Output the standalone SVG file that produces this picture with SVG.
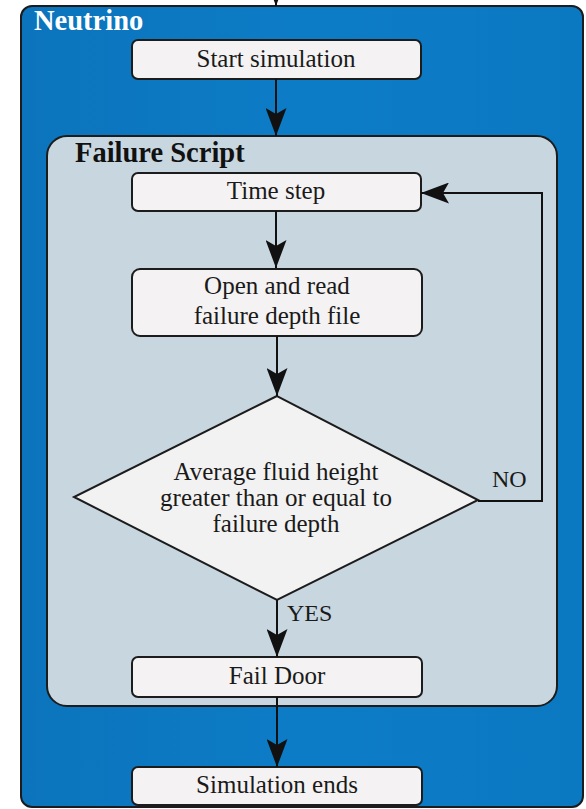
<svg xmlns="http://www.w3.org/2000/svg" width="586" height="809" viewBox="0 0 586 809">
<style>
.box{fill:#f4f2f2;stroke:#1c1c1c;stroke-width:2}
.t{font-size:25px;fill:#1a1a1a;text-anchor:middle}
.title{font-size:28.5px;font-weight:bold}
.lbl{font-size:24px;fill:#1a1a1a}
.c{fill:none;stroke:#111;stroke-width:2}
</style>
<defs>
<marker id="ah" markerUnits="userSpaceOnUse" markerWidth="28" markerHeight="21" refX="28" refY="10.5" orient="auto">
<path d="M0,0 L28,10.5 L0,21 L6,10.5 Z" fill="#111"/>
</marker>
<linearGradient id="blue" x1="0" y1="0" x2="1" y2="0">
<stop offset="0" stop-color="#0b74bc"/>
<stop offset="0.5" stop-color="#0d7cc6"/>
<stop offset="1" stop-color="#0b78c2"/>
</linearGradient>
</defs>
<g font-family="Liberation Serif, Times New Roman, serif">
<g id="neutrino">
<rect x="21" y="6" width="562" height="801" rx="11" fill="url(#blue)" stroke="#1c1c1c" stroke-width="2"/>
<text class="title" x="34" y="30" fill="#ffffff">Neutrino</text>
</g>
<g id="failure-script">
<rect x="47" y="136" width="510" height="570" rx="20" fill="#c8d6df" stroke="#1c1c1c" stroke-width="2"/>
<text class="title" x="75" y="162" fill="#111">Failure Script</text>
</g>
<g id="start">
<rect class="box" x="132" y="40" width="289" height="39" rx="6"/>
<text class="t" x="276" y="67">Start simulation</text>
</g>
<g id="timestep">
<rect class="box" x="132" y="173" width="289" height="38" rx="6"/>
<text class="t" x="276" y="199">Time step</text>
</g>
<g id="open">
<rect class="box" x="132" y="269" width="290" height="67" rx="8"/>
<text class="t" x="277" y="294">Open and read</text>
<text class="t" x="277" y="324">failure depth file</text>
</g>
<g id="decision">
<polygon points="277,396 74,497 277,600 478,500" fill="#f3f2f2" stroke="#1c1c1c" stroke-width="2"/>
<text class="t" x="276" y="480">Average fluid height</text>
<text class="t" x="276" y="506">greater than or equal to</text>
<text class="t" x="276" y="532">failure depth</text>
</g>
<g id="faildoor">
<rect class="box" x="132" y="657" width="290" height="40" rx="6"/>
<text class="t" x="277" y="684">Fail Door</text>
</g>
<g id="end">
<rect class="box" x="132" y="767" width="290" height="38" rx="6"/>
<text class="t" x="277" y="793">Simulation ends</text>
</g>
<g id="connectors">
<line class="c" x1="276" y1="-30" x2="276" y2="6" marker-end="url(#ah)"/>
<line class="c" x1="276" y1="79" x2="276" y2="136" marker-end="url(#ah)"/>
<line class="c" x1="276" y1="211" x2="276" y2="268" marker-end="url(#ah)"/>
<line class="c" x1="277" y1="336" x2="277" y2="396" marker-end="url(#ah)"/>
<polyline class="c" points="478,501 542,501 542,193 421,193" marker-end="url(#ah)"/>
<line class="c" x1="277" y1="600" x2="277" y2="657" marker-end="url(#ah)"/>
<line class="c" x1="277" y1="697" x2="277" y2="767" marker-end="url(#ah)"/>
<text class="lbl" x="492" y="487">NO</text>
<text class="lbl" x="287" y="621">YES</text>
</g>
</g>
</svg>
